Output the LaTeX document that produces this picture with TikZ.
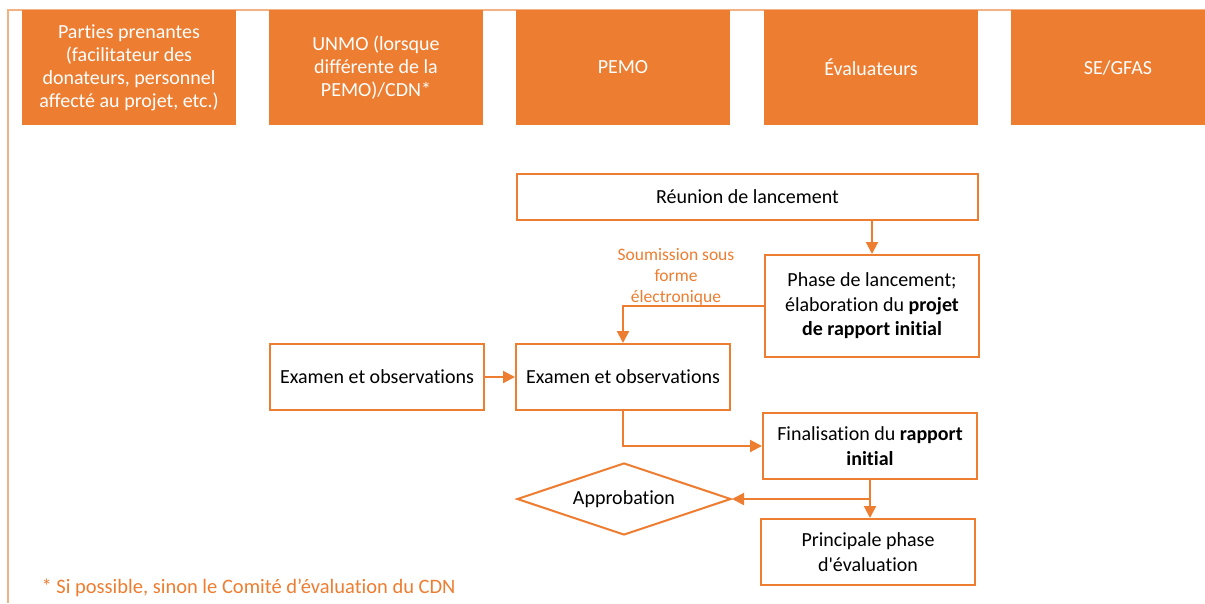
\documentclass[tikz,border=0pt]{standalone}
\usepackage{fontspec}
\setmainfont{Carlito}[Ligatures=NoCommon]
% family without the TeX input mapping, for a straight apostrophe
\newfontfamily\plainfont{Carlito}[Ligatures=NoCommon]
\usetikzlibrary{shapes.geometric,arrows.meta}
\definecolor{accent}{HTML}{ED7D31}
\definecolor{framec}{HTML}{F4B183}
\begin{document}
\begin{tikzpicture}[x=1pt,y=-1pt,
  header/.style={fill=accent, text=white, minimum width=214pt, minimum height=115pt,
    inner sep=0pt, align=center, font=\fontsize{20}{23}\selectfont},
  stepbox/.style={draw=accent, line width=2pt, fill=white, minimum width=214pt,
    minimum height=66pt, inner sep=0pt, align=center, font=\fontsize{20}{24.5}\selectfont},
  decision/.style={diamond, aspect=3, draw=accent, line width=2pt, fill=white, minimum width=214pt,
    minimum height=72pt, inner sep=0pt, font=\fontsize{20}{24}\selectfont},
  flow/.style={draw=accent, line width=2pt, -{Triangle[length=12pt,width=12pt]}},
  link/.style={draw=accent, line width=2pt},
  note/.style={text=accent, align=center}]
\useasboundingbox (0,0) rectangle (1205,603);
\clip (0,0) rectangle (1205,603);

% outer frame
\draw[framec, line width=2pt] (8,603) -- (8,10) -- (1205,10);

% column headers
\node[header] (h1) at (129,67.5) {Parties prenantes\\(facilitateur des\\donateurs, personnel\\affecté au projet, etc.)};
\node[header] (h2) at (376,67.5) {UNMO (lorsque\\différente de la\\PEMO)/CDN*};
\node[header] (h3) at (623,67.5) {PEMO};
\node[header] (h4) at (871,67.5) {Évaluateurs};
\node[header] (h5) at (1118,67.5) {SE/GFAS};

% process steps
\node[stepbox, minimum width=461pt, minimum height=46pt] (reunion) at (747.5,197) {Réunion de lancement};
\node[stepbox, minimum height=102pt] (phase) at (872,306) {Phase de lancement;\\élaboration du \textbf{projet}\\\textbf{de rapport initial}};
\node[stepbox] (exam1) at (377,377) {Examen et observations};
\node[stepbox] (exam2) at (623,377) {Examen et observations};
\node[stepbox] (final) at (870,446) {Finalisation du \textbf{rapport}\\\textbf{initial}};
\node[decision] (appro) at (624,499) {Approbation};
\node[stepbox] (princ) at (868,552) {Principale phase\\d{\plainfont'}évaluation};

% labels
\node[note, font=\fontsize{17.5}{21}\selectfont] (soumission) at (676,277) {Soumission sous\\forme\\électronique};
\node[note, anchor=west, font=\fontsize{20.5}{22}\selectfont] (footnote) at (38,588) {* Si possible, sinon le Comité d’évaluation du CDN};

% connectors
\draw[flow] (phase.north |- reunion.south) -- (phase.north);
\draw[flow] (phase.west) -| (exam2.north);
\draw[flow] (exam1.east) -- (exam2.west);
\draw[flow] (exam2.south) |- (final.west);
\coordinate (split) at (final.south |- appro.east);
\draw[link] (final.south) -- (split);
\draw[flow] (split) -- (appro.east);
\draw[flow] (split) -- (split |- princ.north);
\end{tikzpicture}
\end{document}
